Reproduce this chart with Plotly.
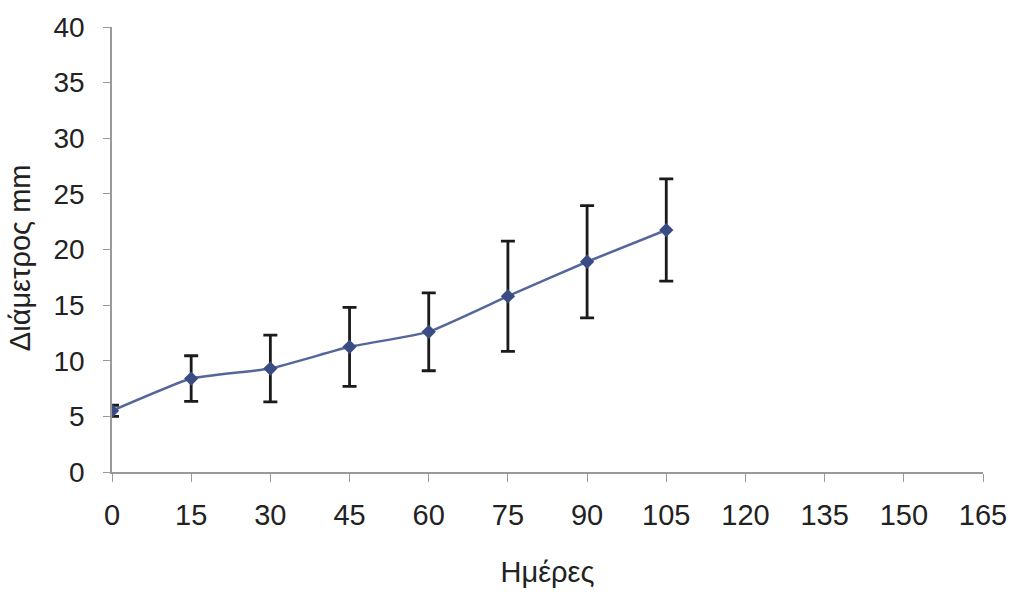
import plotly.graph_objects as go

days = [0, 15, 30, 45, 60, 75, 90, 105]
diameter = [5.5, 8.4, 9.3, 11.25, 12.6, 15.8, 18.9, 21.75]
err = [0.5, 2.05, 3.0, 3.55, 3.5, 4.95, 5.05, 4.6]
x_ticks = list(range(0, 166, 15))
y_ticks = list(range(0, 41, 5))

fig = go.Figure()
fig.add_trace(go.Scatter(
    x=days, y=diameter, mode="lines+markers",
    line=dict(color="#55669a", width=2.5, shape="spline", smoothing=0.4),
    marker=dict(symbol="diamond", size=11, color="#3b4c85"),
    error_y=dict(type="data", array=err, visible=True, color="#1a1a1a",
                 thickness=2.8, width=7),
    showlegend=False,
))

fam = "Liberation Sans, Arial, sans-serif"
col = "#222222"
fig.update_layout(
    width=1019, height=599,
    margin=dict(l=112, r=29, t=24, b=127),
    paper_bgcolor="white", plot_bgcolor="white",
    font=dict(family=fam, size=28, color=col),
    xaxis=dict(range=[0, 165], tickvals=x_ticks, ticktext=[str(v) for v in x_ticks],
               tickfont=dict(family=fam, size=29, color=col),
               showgrid=False, zeroline=False, showline=True, linecolor="#9a9a9a",
               linewidth=1.5, ticks="outside", ticklen=8, tickcolor="#9a9a9a",
               title=dict(text="Ημέρες", standoff=32,
                          font=dict(family=fam, size=29, color=col)),
               ticklabelstandoff=8),
    yaxis=dict(range=[0, 40], tickvals=y_ticks, showgrid=False, zeroline=False,
               tickfont=dict(family=fam, size=28, color=col),
               showline=True, linecolor="#9a9a9a", linewidth=1.5, ticks="outside",
               ticklen=7, tickcolor="#9a9a9a", ticklabelstandoff=13),
    annotations=[dict(text="Διάμετρος mm", textangle=-90, showarrow=False,
                      xref="paper", yref="paper", x=(20 - 112) / 878,
                      y=(472 - 256) / 448, xanchor="center", yanchor="middle",
                      font=dict(family=fam, size=29, color=col))],
)
fig.write_html("out.html")
